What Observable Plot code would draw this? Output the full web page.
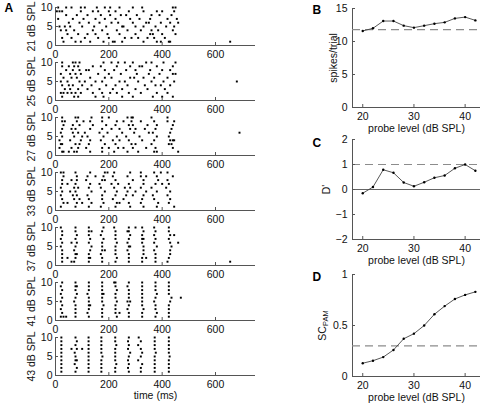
<!DOCTYPE html>
<html><head><meta charset="utf-8">
<script src="https://cdn.jsdelivr.net/npm/d3@7"></script>
<script src="https://cdn.jsdelivr.net/npm/@observablehq/plot@0.6"></script>
<style>
body{margin:0;background:#fff;}
#fig{position:relative;width:484px;height:406px;overflow:hidden;}
#fig svg{position:absolute;overflow:visible;}
</style></head><body><div id="fig"></div>
<script>
// ---- Raster data: spike times (ms) per trial (index 0 = trial 1) ----
const levelLabels = ["21 dB SPL","25 dB SPL","27 dB SPL","33 dB SPL","37 dB SPL","41 dB SPL","43 dB SPL"];
const raster21 = [
  [30,75,95,130,180,215,222,250,330,380,395,425,430,655],
  [25,60,110,160,200,260,285,310,345,370,410],
  [45,85,120,150,195,240,300,355,365,400,450],
  [20,40,70,140,175,230,270,320,360,385,440],
  [15,35,55,100,145,190,250,255,300,330,375,415,445],
  [50,90,125,165,210,235,290,340,350,395,430,460],
  [10,65,105,150,185,225,280,315,355,420,455],
  [40,80,120,170,205,245,265,305,360,390,435],
  [5,15,25,95,140,160,200,225,275,330,380,400,445],
  [10,40,60,95,110,155,185,205,240,290,325,440,450]
];
const raster25 = [
  [25,70,85,150,180,250,290,365,400,440],
  [20,30,45,60,75,95,140,175,205,230,275,320,380,420],
  [35,55,85,120,165,215,250,300,345,410],
  [25,50,65,100,135,190,225,270,335,375,395,430],
  [20,45,90,110,150,175,240,260,310,360,405,445,680],
  [30,60,80,130,185,210,280,295,330,370,420],
  [20,55,75,95,160,200,245,305,350,390,440,450],
  [40,65,90,115,125,185,220,265,300,355,400,430],
  [25,50,70,85,140,170,230,280,315,325,380,440],
  [25,65,75,90,180,210,235,260,290,340,360,405,450]
];
const raster27 = [
  [25,30,50,70,80,130,175,220,270,310,370,380,460],
  [15,60,85,115,175,200,235,255,290,340,375,440],
  [20,25,75,90,125,185,225,285,300,360,425,435],
  [15,55,95,130,170,215,240,275,325,370,430,440,445],
  [25,70,100,120,180,230,265,315,380,425],
  [20,65,85,110,165,195,250,295,350,365,430,690],
  [25,60,75,130,175,210,240,280,300,335,375,435],
  [30,65,90,140,190,225,275,290,345,380,440],
  [25,35,80,105,130,175,230,255,285,320,370,420,445],
  [25,75,85,135,175,200,270,285,290,360,420]
];
const raster33 = [
  [20,75,125,170,225,280,330,380,445],
  [30,45,80,100,135,180,230,240,275,320,385,425],
  [25,70,90,125,175,215,255,325,370,430],
  [20,65,80,120,175,225,265,290,330,365,420],
  [25,55,75,135,185,230,270,300,340,380,430],
  [20,70,85,125,170,220,260,280,320,360,415],
  [25,45,75,130,165,210,235,275,330,375,400,425],
  [25,60,80,115,175,185,225,290,330,385,420],
  [30,80,120,150,180,215,270,320,340,380,440],
  [20,30,75,130,185,195,220,280,320,370,395,420]
];
const raster37 = [
  [25,60,70,125,175,225,275,325,375,420,655],
  [25,45,75,125,130,175,230,275,325,340,375,425],
  [25,75,80,125,170,225,275,330,375,430],
  [25,70,130,175,185,225,270,330,370,430],
  [20,75,135,175,225,275,280,330,380,435],
  [25,60,80,125,175,230,270,325,370,430,460],
  [20,75,130,180,225,275,325,330,375,425],
  [25,80,125,170,225,280,325,370,430,445],
  [25,75,125,135,175,225,270,275,330,375,425],
  [20,75,125,180,220,275,300,325,370,425]
];
const raster41 = [
  [20,30,40,75,125,175,230,275,325,375,425],
  [25,75,120,175,225,240,275,325,380,425],
  [20,75,125,175,225,270,330,375,425],
  [25,75,125,130,180,225,275,325,375,425],
  [20,70,125,175,230,270,280,325,370,430],
  [25,75,125,175,225,275,325,375,435,470],
  [20,80,120,175,180,225,275,325,380,425],
  [25,75,125,175,230,275,325,375,425],
  [20,75,80,125,175,225,270,325,375,425],
  [25,75,125,175,220,225,275,325,375,425]
];
const raster43 = [
  [22,75,124,172,224,275,320,372,425],
  [22,80,124,172,224,272,320,372,425],
  [22,72,124,172,228,275,325,372,425],
  [22,75,80,124,172,224,272,310,372,425],
  [22,75,124,176,224,275,320,372,428],
  [22,72,124,172,224,280,325,376,425],
  [22,60,80,100,124,172,224,272,320,372,425],
  [22,75,124,172,228,275,310,372,425],
  [22,80,124,172,224,272,320,372,425],
  [22,75,124,172,224,275,312,372,425]
];
const rasters = [raster21, raster25, raster27, raster33, raster37, raster41, raster43];
const timeTicks = [0,200,400,600];
const trialTicks = [0,5,10];

// ---- Summary panels ----
const probeLevels    = [20,22,24,26,28,30,32,34,36,38,40,42];
const spikesPerTrial = [11.6,12.0,13.1,13.1,12.4,12.1,12.4,12.7,12.9,13.5,13.7,13.2];
const dPrime         = [-0.15,0.1,0.79,0.67,0.28,0.13,0.29,0.47,0.56,0.85,1.0,0.75];
const scPam          = [0.13,0.155,0.19,0.26,0.37,0.42,0.50,0.61,0.69,0.76,0.80,0.83];
const spikesRef = 11.8, dPrimeRef = 1, scPamRef = 0.3;
const probeTicks = [20,30,40];

const FONT = "'Liberation Sans', Arial, Helvetica, sans-serif";
const AX = "#555";
const TXT = "#111";
const fig = document.getElementById("fig");

function place(svg, left, top) {
  svg.style.left = left + "px";
  svg.style.top = top + "px";
  fig.appendChild(svg);
  return svg;
}
const baseStyle = {fontFamily: FONT, fontSize: "10.5px", color: TXT, background: "transparent", overflow: "visible"};

// ---- Raster panels (A) ----
rasters.forEach((trials, i) => {
  const isLast = i === rasters.length - 1;
  const data = trials.flatMap((ts, k) => ts.map(t => ({trial: k + 1, time: t})));
  const marks = [
    Plot.ruleY([0], {stroke: AX}),
    Plot.ruleX([0], {stroke: AX}),
    Plot.dot(data, {x: "time", y: "trial", r: 1.1, symbol: "square", fill: "black", stroke: "none"}),
    Plot.axisX({ticks: timeTicks, tickSize: -3, tickPadding: 8, stroke: AX, fill: TXT, label: null}),
    Plot.axisY({ticks: trialTicks, tickSize: -3, tickPadding: 6, stroke: AX, fill: TXT, label: null}),
    Plot.text([levelLabels[i]], {frameAnchor: "left", textAnchor: "middle", lineAnchor: "middle", rotate: -90, dx: -24, fill: TXT, fontSize: 10.5})
  ];
  if (i === 0) marks.push(Plot.text(["A"], {frameAnchor: "top-left", textAnchor: "start", lineAnchor: "top", dx: -51, dy: -4, fontWeight: "bold", fontSize: 12, fill: "black"}));
  if (isLast) marks.push(Plot.text(["time (ms)"], {frameAnchor: "bottom", textAnchor: "middle", lineAnchor: "middle", dy: 20, fill: TXT, fontSize: 10.5}));
  const svg = Plot.plot({
    width: 262, height: isLast ? 75 : 60,
    marginLeft: 55, marginRight: 7, marginTop: 7, marginBottom: isLast ? 30 : 15,
    style: baseStyle,
    x: {domain: [0, 750]},
    y: {domain: [0, 10]},
    marks
  });
  place(svg, 0, 55 * i);
});

// ---- Line panels (B, C, D) ----
function linePanel({values, yDomain, yTicks, yTickFormat, refLines, zeroLine, letter, letterDy, ylabel, ylabelDx, top, marginTop, plotH}) {
  const data = probeLevels.map((x, i) => ({x, y: values[i]}));
  const marks = [
    Plot.ruleY([yDomain[0]], {stroke: AX}),
    Plot.ruleX([18], {stroke: AX}),
  ];
  if (zeroLine) marks.push(Plot.ruleY([0], {stroke: "#666", strokeWidth: 1}));
  marks.push(Plot.ruleY(refLines, {stroke: "#8c8c8c", strokeDasharray: "8,5", strokeWidth: 1.1}));
  marks.push(
    Plot.line(data, {x: "x", y: "y", stroke: "#444", strokeWidth: 0.9}),
    Plot.dot(data, {x: "x", y: "y", r: 1.2, fill: "black", stroke: "none"}),
    Plot.axisX({ticks: probeTicks, tickSize: -3, tickPadding: 8, stroke: AX, fill: TXT, label: null}),
    Plot.axisY({ticks: yTicks, tickFormat: yTickFormat, tickSize: -3, tickPadding: 8, stroke: AX, fill: TXT, label: null}),
    Plot.text(["probe level (dB SPL)"], {frameAnchor: "bottom", textAnchor: "middle", lineAnchor: "middle", dy: 21, fill: TXT, fontSize: 10.5}),
    Plot.text([ylabel], {frameAnchor: "left", textAnchor: "middle", lineAnchor: "middle", rotate: -90, dx: ylabelDx, fill: TXT, fontSize: 10.5}),
    Plot.text([letter], {frameAnchor: "top-left", textAnchor: "start", lineAnchor: "top", dx: -40, dy: letterDy, fontWeight: "bold", fontSize: 12, fill: "black"})
  );
  const svg = Plot.plot({
    width: 184, height: marginTop + plotH + 30,
    marginLeft: 52, marginRight: 4, marginTop, marginBottom: 30,
    style: baseStyle,
    x: {domain: [18, 43]},
    y: {domain: yDomain},
    marks
  });
  return place(svg, 300, top);
}

linePanel({values: spikesPerTrial, yDomain: [0, 15], yTicks: [0,5,10,15], refLines: [spikesRef],
  letter: "B", letterDy: -3, ylabel: "spikes/trial", ylabelDx: -19, top: 0, marginTop: 8, plotH: 99});
linePanel({values: dPrime, yDomain: [-2, 2], yTicks: [-2,-1,0,1,2], yTickFormat: d => d < 0 ? "\u2212" + Math.abs(d) : String(d),
  refLines: [dPrimeRef], zeroLine: true,
  letter: "C", letterDy: -1, ylabel: "D'", ylabelDx: -26, top: 125, marginTop: 14, plotH: 100});
const dSvg = linePanel({values: scPam, yDomain: [0, 1], yTicks: [0,0.5,1], yTickFormat: d => String(d), refLines: [scPamRef],
  letter: "D", letterDy: -2, ylabel: "SC_PAM", ylabelDx: -30, top: 260, marginTop: 14, plotH: 102});

// subscript for SC_PAM
d3.select(dSvg).selectAll("text").filter(function() { return this.textContent === "SC_PAM"; })
  .each(function() {
    const t = d3.select(this);
    t.text(null);
    t.append("tspan").text("SC");
    t.append("tspan").attr("font-size", "7.5px").attr("dy", "0.3em").text("PAM");
  });
</script></body></html>
